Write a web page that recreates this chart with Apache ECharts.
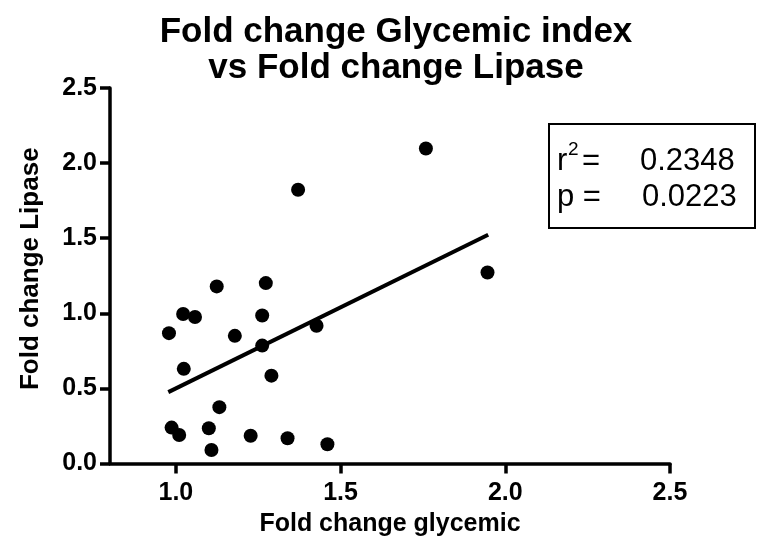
<!DOCTYPE html>
<html><head><meta charset="utf-8">
<script src="https://cdn.jsdelivr.net/npm/echarts@6/dist/echarts.min.js"></script>
<style>html,body{margin:0;padding:0;background:#fff}#c{width:768px;height:557px}</style>
</head><body><div id="c"></div>
<script>
const foldGlycemic = [1.371, 1.124, 1.273, 1.022, 1.058, 1.262, 0.979, 1.179, 1.262, 1.427, 1.024, 1.290, 1.132, 0.987, 1.010, 1.100, 1.108, 1.227, 1.339, 1.460, 1.759, 1.946];
const foldLipase   = [1.823, 1.179, 1.201, 0.995, 0.975, 0.985, 0.868, 0.850, 0.785, 0.917, 0.630, 0.585, 0.375, 0.239, 0.190, 0.235, 0.090, 0.185, 0.168, 0.128, 2.097, 1.272];
const fitX = [0.977, 1.948];
const fitY = [0.475, 1.523];
const xTicks = [1.0, 1.5, 2.0, 2.5];
const stats = { r2: '0.2348', p: '0.0223' };

const font = 'Liberation Sans, Arial, sans-serif';
const chart = echarts.init(document.getElementById('c'));
chart.setOption({
  animation: false,
  title: {
    text: 'Fold change Glycemic index\nvs Fold change Lipase',
    left: 391, top: 9, textAlign: 'center',
    textStyle: { fontFamily: font, fontWeight: 'bold', fontSize: 35, lineHeight: 36, color: '#000' }
  },
  grid: { left: 110, right: 98, top: 88, bottom: 93.5 },
  xAxis: {
    type: 'value', min: 0.8, max: 2.5,
    name: 'Fold change glycemic', nameLocation: 'middle', nameGap: 48,
    nameTextStyle: { fontFamily: font, fontWeight: 'bold', fontSize: 25, color: '#000' },
    axisLine: { lineStyle: { color: '#000', width: 3.5 } },
    axisTick: { show: true, length: 10, lineStyle: { width: 3.5, color: '#000' }, customValues: xTicks },
    axisLabel: { customValues: xTicks, formatter: v => v.toFixed(1), fontFamily: font, fontWeight: 'bold', fontSize: 25, color: '#000', margin: 17 },
    splitLine: { show: false }
  },
  yAxis: {
    type: 'value', min: 0, max: 2.5, interval: 0.5,
    name: 'Fold change Lipase', nameLocation: 'middle', nameGap: 66,
    nameTextStyle: { fontFamily: font, fontWeight: 'bold', fontSize: 26, color: '#000', padding: [0, 0, 0, 14] },
    axisLine: { show: true, lineStyle: { color: '#000', width: 3.5 } },
    axisTick: { show: true, length: 10, lineStyle: { width: 3.5, color: '#000' } },
    axisLabel: { formatter: v => v.toFixed(1), fontFamily: font, fontWeight: 'bold', fontSize: 25, color: '#000', margin: 13 },
    splitLine: { show: false }
  },
  series: [
    {
      type: 'line', data: fitX.map((x, i) => [x, fitY[i]]),
      symbol: 'none', lineStyle: { color: '#000', width: 4 }, z: 2
    },
    {
      type: 'scatter', data: foldGlycemic.map((x, i) => [x, foldLipase[i]]),
      symbol: 'circle', symbolSize: 14, itemStyle: { color: '#000', opacity: 1 }, z: 3
    }
  ],
  graphic: [
    { type: 'rect', shape: { x: 549, y: 124, width: 206, height: 104 }, style: { fill: '#fff', stroke: '#000', lineWidth: 2 } },
    { type: 'text', x: 557, y: 161, style: { text: 'r', font: '31px ' + font, fill: '#000', verticalAlign: 'middle' } },
    { type: 'text', x: 568, y: 150, style: { text: '2', font: '19px ' + font, fill: '#000', verticalAlign: 'middle' } },
    { type: 'text', x: 582, y: 161, style: { text: '=', font: '31px ' + font, fill: '#000', verticalAlign: 'middle' } },
    { type: 'text', x: 640, y: 161, style: { text: stats.r2, font: '31px ' + font, fill: '#000', verticalAlign: 'middle' } },
    { type: 'text', x: 557, y: 197, style: { text: 'p =', font: '31px ' + font, fill: '#000', verticalAlign: 'middle' } },
    { type: 'text', x: 642, y: 197, style: { text: stats.p, font: '31px ' + font, fill: '#000', verticalAlign: 'middle' } }
  ]
});
</script></body></html>
